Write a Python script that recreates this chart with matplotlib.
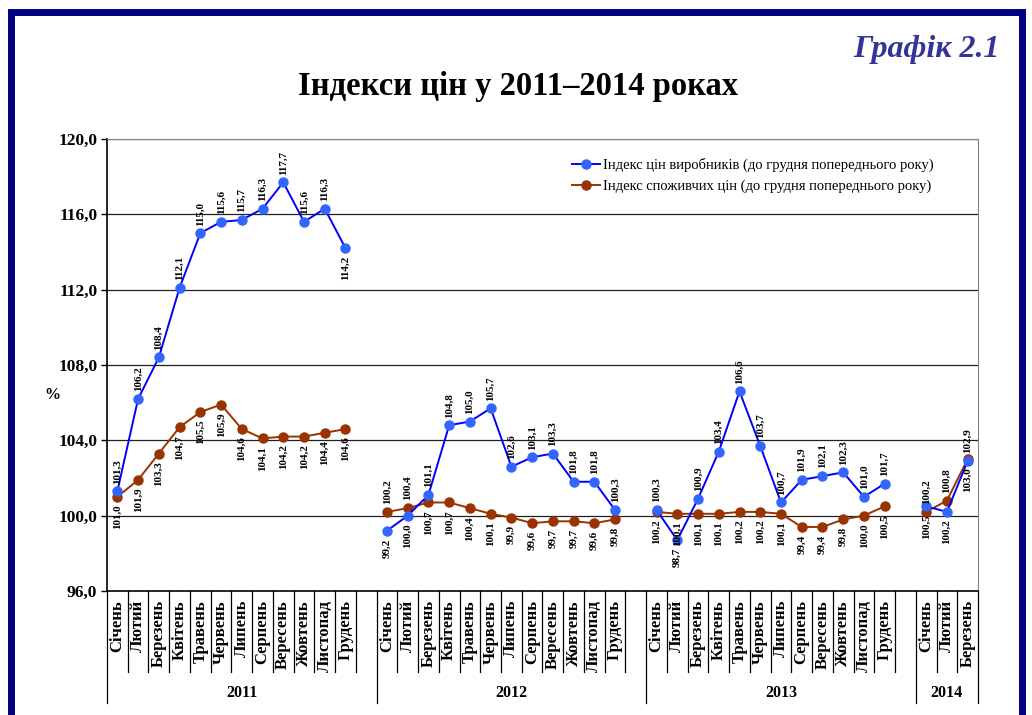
import matplotlib
matplotlib.use("Agg")
import matplotlib.pyplot as plt
from matplotlib.patches import Rectangle
from matplotlib.lines import Line2D
import numpy as np

plt.rcParams['font.family'] = ['Liberation Serif', 'DejaVu Serif']

months = ["Січень", "Лютий", "Березень", "Квітень", "Травень", "Червень",
          "Липень", "Серпень", "Вересень", "Жовтень", "Листопад", "Грудень"]
years = ["2011", "2012", "2013", "2014"]

ppi_2011 = [101.3, 106.2, 108.4, 112.1, 115.0, 115.6, 115.7, 116.3, 117.7, 115.6, 116.3, 114.2]
cpi_2011 = [101.0, 101.9, 103.3, 104.7, 105.5, 105.9, 104.6, 104.1, 104.2, 104.2, 104.4, 104.6]
ppi_2012 = [99.2, 100.0, 101.1, 104.8, 105.0, 105.7, 102.6, 103.1, 103.3, 101.8, 101.8, 100.3]
cpi_2012 = [100.2, 100.4, 100.7, 100.7, 100.4, 100.1, 99.9, 99.6, 99.7, 99.7, 99.6, 99.8]
ppi_2013 = [100.3, 98.7, 100.9, 103.4, 106.6, 103.7, 100.7, 101.9, 102.1, 102.3, 101.0, 101.7]
cpi_2013 = [100.2, 100.1, 100.1, 100.1, 100.2, 100.2, 100.1, 99.4, 99.4, 99.8, 100.0, 100.5]
ppi_2014 = [100.5, 100.2, 102.9]
cpi_2014 = [100.2, 100.8, 103.0]

# label placement: 1 = above, -1 = below
ppi_pos = [1]*11 + [-1] + [-1, -1] + [1]*10 + [1, -1] + [1]*10 + [-1, -1, 1]
cpi_pos = [-1]*12 + [1, 1] + [-1]*10 + [-1]*12 + [1, 1, -1]

ppi_years = [ppi_2011, ppi_2012, ppi_2013, ppi_2014]
cpi_years = [cpi_2011, cpi_2012, cpi_2013, cpi_2014]

W, H = 1032, 715
fig = plt.figure(figsize=(W/100, H/100), dpi=100)
fig.patch.set_facecolor('white')

L, R, T, B = 107, 978, 139, 591
ax = fig.add_axes([L/W, 1-B/H, (R-L)/W, (B-T)/H])

nslots = 13*3 + 3
ax.set_xlim(0, nslots)
ax.set_ylim(96, 120)

def fmt(v):
    return f"{v:.1f}".replace('.', ',')

blue_line = '#0000FF'
blue_mk = '#3366FF'
brown = '#993300'

xs_all = []
ppi_all = []
cpi_all = []
for k, (pp, cc) in enumerate(zip(ppi_years, cpi_years)):
    xs = [13*k + m + 0.5 for m in range(len(pp))]
    ax.plot(xs, pp, color=blue_line, lw=1.4, marker='o', ms=6.5,
            mfc=blue_mk, mec=blue_mk, zorder=4,
            label='Індекс цін виробників (до грудня попереднього року)' if k == 0 else None)
    ax.plot(xs, cc, color=brown, lw=1.4, marker='o', ms=6.5,
            mfc=brown, mec=brown, zorder=3,
            label='Індекс споживчих цін (до грудня попереднього року)' if k == 0 else None)
    xs_all += xs
    ppi_all += pp
    cpi_all += cc

for x, v, p in zip(xs_all, ppi_all, ppi_pos):
    ax.annotate(fmt(v), (x, v), xytext=(0, 5.5*p), textcoords='offset points',
                rotation=90, ha='center', va='bottom' if p > 0 else 'top',
                fontsize=8, fontweight='bold', zorder=6)
for x, v, p in zip(xs_all, cpi_all, cpi_pos):
    ax.annotate(fmt(v), (x, v), xytext=(0, 5.5*p), textcoords='offset points',
                rotation=90, ha='center', va='bottom' if p > 0 else 'top',
                fontsize=8, fontweight='bold', zorder=6)

# y axis
yt = np.arange(96, 121, 4)
ax.set_yticks(yt)
ax.set_yticklabels([fmt(v) for v in yt], fontsize=12.5, fontweight='bold')
ax.tick_params(axis='y', direction='out', length=4, width=1, pad=3)
ax.set_xticks([])
for y in yt[1:]:
    ax.axhline(y, color='#202020', lw=0.9, zorder=1)
ax.spines['left'].set_color('black')
ax.spines['left'].set_linewidth(1.2)
ax.spines['bottom'].set_color('black')
ax.spines['bottom'].set_linewidth(1.2)
ax.spines['top'].set_color('#808080')
ax.spines['right'].set_color('#808080')

# category axis
tr = ax.get_xaxis_transform()
def fy(p):
    return (B - p) / (B - T)

for i in range(nslots + 1):
    if i % 13 == 0 or i == nslots:
        y1 = fy(703)
    else:
        y1 = fy(672)
    ax.add_line(Line2D([i, i], [0, y1], transform=tr, color='black',
                       lw=0.9, clip_on=False))

for k, pp in enumerate(ppi_years):
    for m in range(len(pp)):
        ax.text(13*k + m + 0.5, fy(600), months[m], transform=tr, rotation=90,
                ha='center', va='top', fontsize=12, fontweight='bold')
    n = 13 if k < 3 else 3
    ax.text(13*k + n/2, fy(693), years[k], transform=tr, ha='center',
            va='center', fontsize=11.5, fontweight='bold')

# % label
fig.text(52/W, 1-395/H, '%', ha='center', va='center', fontsize=11.5,
         fontweight='bold')

# titles
fig.text(518/W, 1-87/H, 'Індекси цін у 2011–2014 роках', ha='center',
         va='center', fontsize=23.5, fontweight='bold')
fig.text(1000/W, 1-50/H, 'Графік 2.1', ha='right', va='center', fontsize=23,
         fontweight='bold', fontstyle='italic', color='#333399')

# legend
ax.legend(loc='upper left', bbox_to_anchor=(572/W, 1-158/H),
          bbox_transform=fig.transFigure, frameon=False, fontsize=10.5,
          handlelength=1.9, handletextpad=0.2, borderpad=0, labelspacing=0.5,
          borderaxespad=0)

# page border
fig.patches.append(Rectangle((10.5/W, -0.1), 1011.5/W, 1.1 - 11.5/H,
                             transform=fig.transFigure, fill=False,
                             edgecolor='#000080', lw=5.0))

fig.savefig('out.png', dpi=100)
